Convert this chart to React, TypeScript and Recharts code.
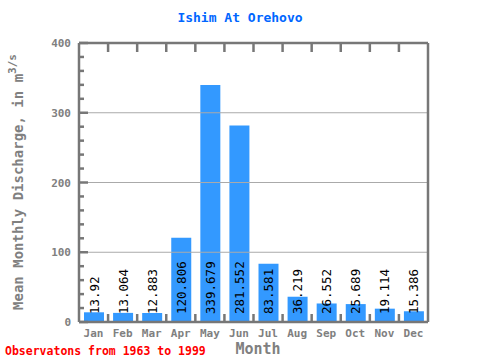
import React from 'react';
import { BarChart, Bar, XAxis, YAxis, ReferenceLine, LabelList } from 'recharts';

const months = ['Jan', 'Feb', 'Mar', 'Apr', 'May', 'Jun', 'Jul', 'Aug', 'Sep', 'Oct', 'Nov', 'Dec'];
const discharge = [13.92, 13.064, 12.883, 120.806, 339.679, 281.552, 83.581, 36.219, 26.552, 25.689, 19.114, 15.386];
const yTicks = [0, 20, 40, 60, 80, 100, 120, 140, 160, 180, 200, 220, 240, 260, 280, 300, 320, 340, 360, 380, 400];
const gridValues = [100, 200, 300];

const data = months.map((m, i) => ({ month: m, value: discharge[i] }));

const LEFT = 79;
const RIGHT = 428;
const TOP = 43;
const BOTTOM = 322;
const STEP = (RIGHT - LEFT) / months.length;
const AXIS = '#777777';
const FONT = '"DejaVu Sans Mono", monospace';

const leftTick = (props: any) => {
  const { y, payload } = props;
  const v = Number(payload.value);
  const major = v % 100 === 0;
  return (
    <g key={`lt-${v}`}>
      <path d={`M${LEFT},${y}h${major ? 9 : 5}`} stroke={AXIS} strokeWidth={2.5} fill="none" />
      {major && (
        <text x={71} y={y + 4} textAnchor="end" fontFamily={FONT} fontSize={11} fontWeight="bold" fill="#808080">
          {v}
        </text>
      )}
    </g>
  );
};

const rightTick = (props: any) => {
  const { y, payload } = props;
  const v = Number(payload.value);
  const len = v % 100 === 0 ? 9 : 5;
  return <path key={`rt-${v}`} d={`M${RIGHT},${y}h${-len}`} stroke={AXIS} strokeWidth={2.5} fill="none" />;
};

const bottomTick = (props: any) => {
  const { x, index, payload } = props;
  const bx = x - STEP / 2;
  return (
    <g key={`bt-${index}`}>
      {index > 0 && <path d={`M${bx},${BOTTOM}v-8`} stroke={AXIS} strokeWidth={2.5} fill="none" />}
      <text x={x} y={337} textAnchor="middle" fontFamily={FONT} fontSize={11} fontWeight="bold" fill="#808080">
        {payload.value}
      </text>
    </g>
  );
};

const topTick = (props: any) => {
  const { x, index } = props;
  const bx = x - STEP / 2;
  if (index === 0) return <g key="tt-0" />;
  return <path key={`tt-${index}`} d={`M${bx},${TOP}v9`} stroke={AXIS} strokeWidth={2.5} fill="none" />;
};

const BarValue = (props: any) => {
  const { x, y, width, height, value } = props;
  const cx = x + width / 2;
  const by = y + height - 8;
  return (
    <text x={cx} y={by} transform={`rotate(-90, ${cx}, ${by})`} textAnchor="start" dominantBaseline="central"
      fontFamily={FONT} fontSize={12.5} fill="#000">
      {value}
    </text>
  );
};

const YLabel = () => {
  const cx = 18;
  const cy = 182;
  return (
    <text x={cx} y={cy} transform={`rotate(-90, ${cx}, ${cy})`} textAnchor="middle" dominantBaseline="central"
      fontFamily={FONT} fontSize={14} fontWeight="bold" fill="#808080">
      Mean Monthly Discharge, in  m
      <tspan dy={-6} fontSize={11}>3/s</tspan>
    </text>
  );
};

export default function App() {
  return (
    <div style={{ position: 'absolute', left: 0, top: 0, width: 480, height: 360, background: '#fff' }}>
      <div style={{ position: 'absolute', top: 10, left: 0, width: 480, textAlign: 'center',
        fontFamily: FONT, fontSize: 13, fontWeight: 'bold', color: '#0066ff' }}>
        Ishim At Orehovo
      </div>
      <BarChart width={480} height={360} data={data}
        margin={{ top: TOP - 1, right: 480 - RIGHT - 1, bottom: 360 - BOTTOM - 1, left: LEFT - 1 }}>
        <XAxis dataKey="month" xAxisId="b" height={1} tickLine={false} interval={0}
          axisLine={{ stroke: AXIS, strokeWidth: 2.5 }} tick={bottomTick} />
        <XAxis dataKey="month" xAxisId="t" orientation="top" height={1} tickLine={false} interval={0}
          axisLine={{ stroke: AXIS, strokeWidth: 2.5 }} tick={topTick} />
        <YAxis yAxisId="l" width={1} domain={[0, 400]} ticks={yTicks} interval={0} tickLine={false}
          axisLine={{ stroke: AXIS, strokeWidth: 2.5 }} tick={leftTick} label={<YLabel />} />
        <YAxis yAxisId="r" orientation="right" width={1} domain={[0, 400]} ticks={yTicks} interval={0} tickLine={false}
          axisLine={{ stroke: AXIS, strokeWidth: 2.5 }} tick={rightTick} />
        <Bar dataKey="value" xAxisId="b" yAxisId="l" fill="#3399ff" barSize={20} isAnimationActive={false}>
          <LabelList dataKey="value" content={<BarValue />} />
        </Bar>
        {gridValues.map((v) => (
          <ReferenceLine key={v} y={v} xAxisId="b" yAxisId="l" stroke="#aaaaaa" strokeWidth={1} />
        ))}
      </BarChart>
      <div style={{ position: 'absolute', top: 340, left: 258, transform: 'translateX(-50%)',
        fontFamily: FONT, fontSize: 15, fontWeight: 'bold', color: '#808080' }}>
        Month
      </div>
      <div style={{ position: 'absolute', top: 344, left: 5,
        fontFamily: FONT, fontSize: 11.5, fontWeight: 'bold', color: '#ff0000' }}>
        Observatons from 1963 to 1999
      </div>
    </div>
  );
}
